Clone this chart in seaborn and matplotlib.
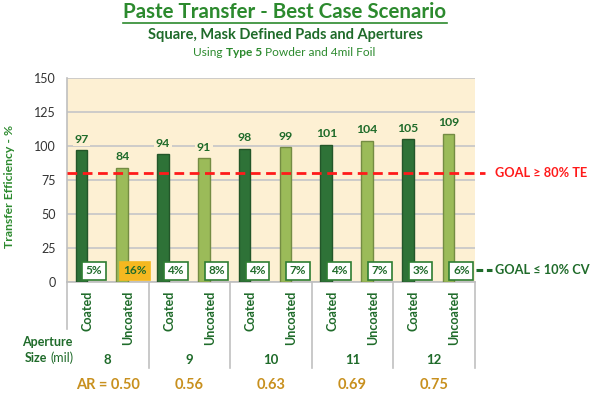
import matplotlib
matplotlib.use("Agg")
import matplotlib.pyplot as plt
import matplotlib.colors as mcolors
import seaborn as sns
import pandas as pd
import numpy as np
from matplotlib.lines import Line2D

# ---------------- data ----------------
apertures = ["8", "9", "10", "11", "12"]
aspect_ratios = ["AR = 0.50", "0.56", "0.63", "0.69", "0.75"]
coatings = ["Coated", "Uncoated"]
coated_te = [97, 94, 98, 101, 105]
uncoated_te = [84, 91, 99, 104, 109]
coated_cv = [5, 4, 4, 4, 3]
uncoated_cv = [16, 8, 7, 7, 6]
y_ticks = [0, 25, 50, 75, 100, 125, 150]
te_goal = 80
cv_goal = 10

rows = []
for i, ap in enumerate(apertures):
    rows.append(dict(slot=f"{ap} Coated", aperture=ap, coating="Coated",
                     te=coated_te[i], cv=coated_cv[i]))
    rows.append(dict(slot=f"{ap} Uncoated", aperture=ap, coating="Uncoated",
                     te=uncoated_te[i], cv=uncoated_cv[i]))
df = pd.DataFrame(rows)

# ---------------- style ----------------
plt.rcParams['font.family'] = ['Lato', 'DejaVu Sans']
DARK = '#1F6B2A'
TITLE_GREEN = '#2C8A2E'
BG = '#FDF0D3'
GOLD_TXT = '#C8901E'
palette = {'Coated': '#2E7237', 'Uncoated': '#9BBB59'}

fig = plt.figure(figsize=(6, 3.97), dpi=100)
W, H = 600, 397
ax = fig.add_axes([67 / W, 1 - 282 / H, 408 / W, 204 / H])
ax.set_facecolor(BG)

sns.barplot(data=df, x='slot', y='te', hue='coating', order=list(df.slot),
            hue_order=coatings, palette=palette, dodge=False, width=0.285,
            saturation=1, legend=False, ax=ax, linewidth=1, zorder=3)
for p in ax.patches:
    fc = np.array(mcolors.to_rgb(p.get_facecolor()))
    p.set_edgecolor(fc * 0.75)

ax.set_xlim(-0.355, 9.645)
ax.set_ylim(0, 150)
ax.set_yticks(y_ticks)
ax.yaxis.grid(True, color='#C9C9C9', lw=1.3, zorder=0)
ax.set_axisbelow(True)
for s in ['top', 'right']:
    ax.spines[s].set_visible(False)
for s in ['left', 'bottom']:
    ax.spines[s].set_color('#BFBFBF')
    ax.spines[s].set_linewidth(1.2)
ax.tick_params(axis='y', length=0, pad=8, labelsize=9, labelcolor='#333333')
ax.set_xlabel('')
ax.set_ylabel('')

# category tick labels
ax.set_xticks(np.arange(len(df)) + 0.145)
ax.set_xticklabels([c for c in df.coating], rotation=90, fontsize=9,
                   fontweight='bold', color=DARK)
ax.tick_params(axis='x', length=0, pad=6)

# value labels
for cont in ax.containers:
    ax.bar_label(cont, fmt='%d', padding=4, fontsize=8.8, fontweight='bold',
                 color=DARK, bbox=dict(boxstyle='square,pad=0.15', fc=BG, ec='none'),
                 zorder=4)

# CV boxes
for j, row in df.iterrows():
    bad = row.cv > cv_goal
    ax.text(j + 0.31, 8.3, f"{row.cv}%", ha='center', va='center', fontsize=8.5,
            fontweight='bold', color=DARK, zorder=5,
            bbox=dict(boxstyle='square,pad=0.3', fc='#F5B820' if bad else 'white',
                      ec='#F5B820' if bad else '#2E7D32', lw=1.2))

# TE goal line
ax.plot([0, 1.025], [te_goal, te_goal], transform=ax.get_yaxis_transform(),
        clip_on=False, color='#FF1A1A', lw=2, dashes=(3.5, 2), zorder=6)
ax.text(1.049, te_goal, "GOAL \u2265 80% TE", transform=ax.get_yaxis_transform(),
        ha='left', va='center', color='#FF1A1A', fontsize=9.2, fontweight='bold')
# CV goal marker
ax.plot([1.002, 1.042], [8.8, 8.8], transform=ax.get_yaxis_transform(),
        clip_on=False, color=DARK, lw=2.2, dashes=(2.2, 1.2))
ax.text(1.049, 8.8, "GOAL \u2264 10% CV", transform=ax.get_yaxis_transform(),
        ha='left', va='center', color=DARK, fontsize=9.2, fontweight='bold')

# group dividers and labels below axis
xt = ax.get_xaxis_transform()
for k in range(len(apertures) + 1):
    x = -0.355 + 2 * k
    ybot = -0.23 if k == 0 else -0.42
    ax.plot([x, x], [0, ybot], transform=xt, clip_on=False, color='#C0C0C0', lw=1.2)
for k, ap in enumerate(apertures):
    xc = 2 * k + 0.645
    ax.text(xc, -0.382, ap, transform=xt, ha='center', va='center', fontsize=9.5,
            fontweight='bold', color=DARK)
    ax.text(xc, -0.505, aspect_ratios[k], transform=xt, ha='center', va='center',
            fontsize=10.5, fontweight='bold', color=GOLD_TXT)

renderer = fig.canvas.get_renderer()


def width_of(s, w, fs):
    tt = fig.text(0, 0, s, fontsize=fs, fontweight=w)
    ww = tt.get_window_extent(renderer).width
    tt.remove()
    return ww


def mixed_line(pieces, xc, yc, fs, color):
    space = width_of("x x", 'normal', fs) - width_of("xx", 'normal', fs)
    widths = [width_of(s, w, fs) for s, w in pieces]
    total = sum(widths) + space * (len(pieces) - 1)
    x0 = xc - total / 2
    for (s, w), ww in zip(pieces, widths):
        fig.text(x0 / W, 1 - yc / H, s, ha='left', va='center', fontsize=fs,
                 fontweight=w, color=color)
        x0 += ww + space


fig.text(47 / W, 1 - 342 / H, "Aperture", ha='center', va='center', fontsize=9,
         fontweight='bold', color=DARK)
mixed_line([("Size", 'bold'), ("(mil)", 'normal')], 49, 358, 9, DARK)

# y label
fig.text(10 / W, 1 - 186 / H, "Transfer Efficiency - %", rotation=90, ha='center',
         va='center', fontsize=8.8, fontweight='bold', color=TITLE_GREEN)

# titles
t = fig.text(285 / W, 1 - 18 / H, "Paste Transfer - Best Case Scenario", ha='center',
             va='baseline', fontsize=14.8, fontweight='bold', color=TITLE_GREEN)
bb = t.get_window_extent(renderer)
fig.add_artist(Line2D([bb.x0 / W, bb.x1 / W], [1 - 22.5 / H, 1 - 22.5 / H],
                      color=TITLE_GREEN, lw=1.2, transform=fig.transFigure))
fig.text(285 / W, 1 - 35 / H, "Square, Mask Defined Pads and Apertures", ha='center',
         va='center', fontsize=10.5, fontweight='bold', color=DARK)

mixed_line([("Using", 'normal'), ("Type 5", 'bold'), ("Powder and 4mil Foil", 'normal')],
           284, 53, 8.6, TITLE_GREEN)

fig.savefig("out.png", dpi=100)
